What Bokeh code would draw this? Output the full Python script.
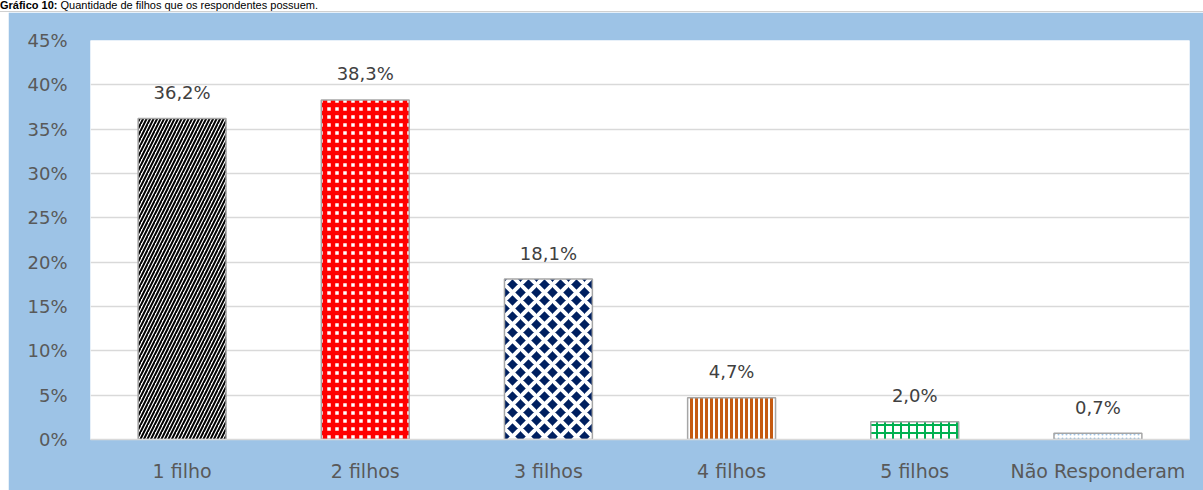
from bokeh.plotting import figure
from bokeh.models import (ColumnDataSource, Range1d, FixedTicker, PrintfTickFormatter,
                          LabelSet, Div, Spacer)
from bokeh.layouts import column, row
from bokeh.core.properties import value
from bokeh.embed import file_html
from bokeh.resources import INLINE

title_bold = "Gráfico 10:"
title_rest = "Quantidade de filhos que os respondentes possuem."
categories = ["1 filho", "2 filhos", "3 filhos", "4 filhos", "5 filhos", "Não Responderam"]
values = [36.2, 38.3, 18.1, 4.7, 2.0, 0.7]
value_labels = ["36,2%", "38,3%", "18,1%", "4,7%", "2,0%", "0,7%"]
y_ticks = [0, 5, 10, 15, 20, 25, 30, 35, 40, 45]

# styles per bar
fills = ["#FFFFFF", "#FFFFFF", "#002060", "#FFFFFF", "#FFFFFF", "#FFFFFF"]
hatches = ["/", "+", "x", "|", "+", "."]
hatch_colors = ["#000000", "#FF0000", "#FFFFFF", "#C55A11", "#00B050", "#9DC3E6"]
hatch_scales = [7, 8, 16, 5, 8, 4]
hatch_weights = [2.0, 4.5, 4.0, 3, 2, 1.5]

source = ColumnDataSource(dict(cat=categories, val=values, lab=value_labels,
                               fc=fills, hp=hatches, hc=hatch_colors,
                               hs=hatch_scales, hw=hatch_weights))

FONT = "DejaVu Sans"
BLUE = "#9DC3E6"

p = figure(x_range=categories, y_range=Range1d(0, 45), width=1195, height=478,
           output_backend="svg", toolbar_location=None,
           min_border_left=82, min_border_right=14, min_border_top=28, min_border_bottom=51)
p.border_fill_color = BLUE
p.background_fill_color = "#FFFFFF"
p.outline_line_color = None

p.vbar(x="cat", top="val", width=0.48, source=source,
       fill_color="fc", line_color="#A6A6A6", line_width=1.5,
       hatch_pattern="hp", hatch_color="hc", hatch_scale="hs", hatch_weight="hw")

labels = LabelSet(x="cat", y="val", text="lab", source=source, y_offset=26,
                  text_align="center", text_baseline="middle",
                  text_font=value(FONT), text_font_size="18px", text_color="#404040")
p.add_layout(labels)

p.yaxis.ticker = FixedTicker(ticks=y_ticks)
p.yaxis.formatter = PrintfTickFormatter(format="%d%%")
p.yaxis.axis_line_color = None
p.yaxis.major_tick_line_color = None
p.yaxis.minor_tick_line_color = None
p.yaxis.major_label_standoff = 17
p.yaxis.major_label_text_font = FONT
p.yaxis.major_label_text_font_size = "18px"
p.yaxis.major_label_text_color = "#595959"

p.xaxis.axis_line_color = "#D9D9D9"
p.xaxis.axis_line_width = 1.5
p.xaxis.major_tick_line_color = None
p.xaxis.minor_tick_line_color = None
p.xaxis.major_label_standoff = 14
p.xaxis.major_label_text_font = FONT
p.xaxis.major_label_text_font_size = "19px"
p.xaxis.major_label_text_color = "#595959"

p.xgrid.grid_line_color = None
p.ygrid.grid_line_color = "#D9D9D9"
p.ygrid.grid_line_width = 1.5

title = Div(text=f"<b>{title_bold}</b> {title_rest}", width=1203, height=12, margin=0,
            styles={"font-family": "Liberation Sans", "font-size": "11px",
                    "line-height": "11px", "color": "#000000",
                    "background-color": "#FFFFFF", "overflow": "hidden",
                    "white-space": "nowrap", "border-bottom": "1px solid #D0D0D0",
                    "box-sizing": "border-box"})
left_gap = Spacer(width=8, height=478, margin=0)

layout = column(title, row(left_gap, p, spacing=0), spacing=0)

open("out.html", "w").write(file_html(layout, INLINE))
